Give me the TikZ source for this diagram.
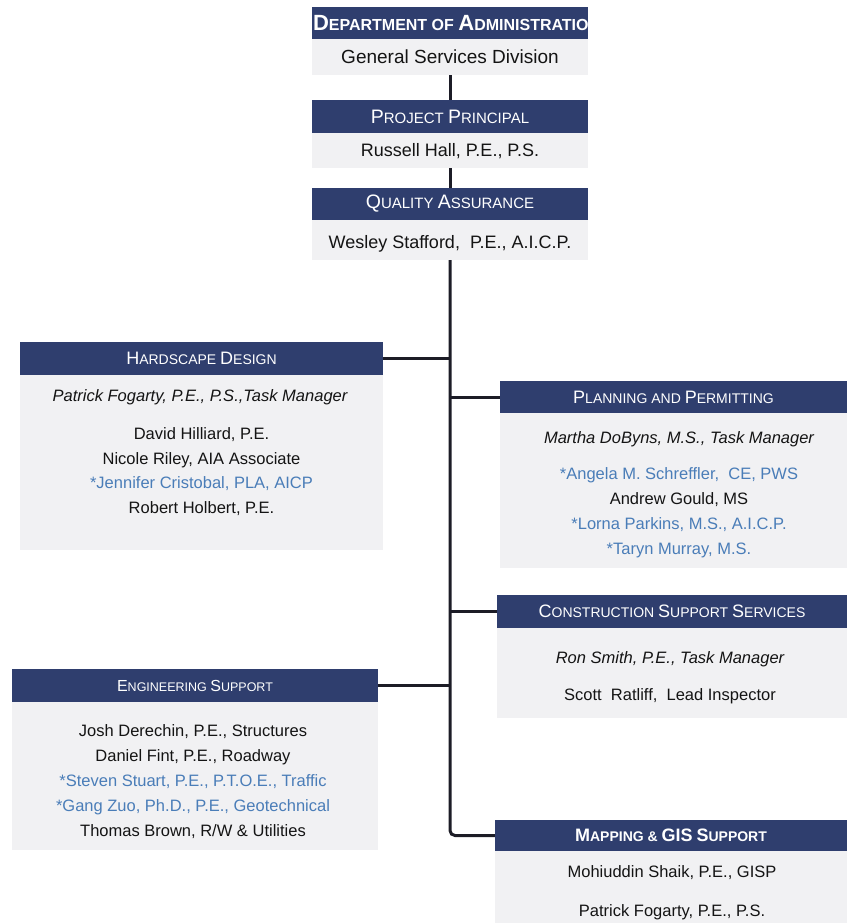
\documentclass[tikz,border=0pt]{standalone}
\usepackage{fontspec}
\setmainfont{Liberation Sans}
\usepackage{tikz}
\usetikzlibrary{positioning}
\definecolor{navy}{HTML}{2F3E6E}
\definecolor{paper}{HTML}{F1F1F3}
\definecolor{starblue}{HTML}{4A7DB8}
\definecolor{ink}{HTML}{141414}
\definecolor{wire}{HTML}{1C1C26}
\newcommand\Ini[1]{{\fontsize{18}{18}\selectfont #1}}
\newcommand\Top[1]{{\fontsize{19.5}{19.5}\selectfont #1}}
\tikzstyle{head}=[rectangle, fill=navy, text=white, inner sep=0pt, minimum height=33pt,
    font=\fontsize{14}{16}\selectfont]
\tikzstyle{body}=[rectangle, fill=paper, inner sep=0pt]
\tikzstyle{crew}=[inner sep=0pt, anchor=base, text=ink, font=\fontsize{16.5}{18}\selectfont]
\tikzstyle{lead}=[crew, font=\fontsize{16.5}{18}\selectfont\itshape]
\tikzstyle{star}=[crew, text=starblue]
\tikzstyle{boss}=[crew, font=\fontsize{18}{20}\selectfont]
\tikzstyle{link}=[draw=wire, line width=3pt]

\begin{document}
\begin{tikzpicture}[x=1pt, y=-1pt]
\useasboundingbox (0,0) rectangle (847,923);
% top of the chart
\node[head, minimum width=276pt, minimum height=32pt] (deptHead) at (450,23){};
\begin{scope}
\clip (deptHead.south west) rectangle (deptHead.north east);
\node[anchor=west, inner sep=0pt, text=white, font=\fontsize{16}{18}\selectfont\bfseries] (deptTitle) at ([xshift=1pt]deptHead.west){{\fontsize{22}{22}\selectfont D}EPARTMENT OF {\fontsize{22}{22}\selectfont A}DMINISTRATION};
\end{scope}
\node[body, minimum width=276pt, minimum height=36pt] (deptBody) at (450,57){};
\node[boss, font=\fontsize{19}{21}\selectfont] (dept0) at (450,63.5){General Services Division};
\node[head, minimum width=276pt, font=\fontsize{15}{17}\selectfont] (ppHead) at (450,116.5){\Top{P}ROJECT \Top{P}RINCIPAL};
\node[body, minimum width=276pt, minimum height=35pt] (ppBody) at (450,150.5){};
\node[boss] (pp0) at (450,156.5){Russell Hall, P.E., P.S.};
\node[head, minimum width=276pt, minimum height=32pt, font=\fontsize{15}{17}\selectfont] (qaHead) at (450,204){\Top{Q}UALITY \Top{A}SSURANCE};
\node[body, minimum width=276pt, minimum height=40pt] (qaBody) at (450,240){};
\node[boss] (qa0) at (450,248.5){Wesley Stafford,~~P.E., A.I.C.P.};
\draw[link](deptBody) -- (ppHead);
\draw[link](ppBody) -- (qaHead);
% left side
\node[head, minimum width=363pt] (hdHead) at (201.5,358.5){\Ini{H}ARDSCAPE \Ini{D}ESIGN};
\node[body, minimum width=363pt, minimum height=175pt] (hdBody) at (201.5,462.5){};
\node[lead] (hd0) at (200,401){Patrick Fogarty, P.E., P.S.,Task Manager};
\node[crew] (hd1) at (201.5,439){David Hilliard, P.E.};
\node[crew] (hd2) at (201.5,464){Nicole Riley, AIA Associate};
\node[star] (hd3) at (201.5,488){*Jennifer Cristobal, PLA, AICP};
\node[crew] (hd4) at (201.5,513){Robert Holbert, P.E.};
\node[head, minimum width=366pt, font=\fontsize{12.5}{14}\selectfont] (esHead) at (195,685.5){{\fontsize{16}{16}\selectfont E}NGINEERING {\fontsize{16}{16}\selectfont S}UPPORT};
\node[body, minimum width=366pt, minimum height=148pt] (esBody) at (195,776){};
\node[crew] (es0) at (193,736){Josh Derechin, P.E., Structures};
\node[crew] (es1) at (193,761){Daniel Fint, P.E., Roadway};
\node[star] (es2) at (193,786){*Steven Stuart, P.E., P.T.O.E., Traffic};
\node[star] (es3) at (193,811){*Gang Zuo, Ph.D., P.E., Geotechnical};
\node[crew] (es4) at (193,836){Thomas Brown, R/W \& Utilities};
% right side
\node[head, minimum width=347pt, minimum height=32pt] (ppmHead) at (673.5,397){\Ini{P}LANNING AND \Ini{P}ERMITTING};
\node[body, minimum width=347pt, minimum height=155pt] (ppmBody) at (673.5,490.5){};
\node[lead] (ppm0) at (679,443){Martha DoByns, M.S., Task Manager};
\node[star] (ppm1) at (679,479){*Angela M. Schreffler,~~CE, PWS};
\node[crew] (ppm2) at (679,504){Andrew Gould, MS};
\node[star] (ppm3) at (679,529){*Lorna Parkins, M.S., A.I.C.P.};
\node[star] (ppm4) at (679,554){*Taryn Murray, M.S.};
\node[head, minimum width=350pt] (cssHead) at (672,611.5){\Ini{C}ONSTRUCTION \Ini{S}UPPORT \Ini{S}ERVICES};
\node[body, minimum width=350pt, minimum height=90pt] (cssBody) at (672,673){};
\node[lead] (css0) at (670,663){Ron Smith, P.E., Task Manager};
\node[crew] (css1) at (670,700){Scott~~Ratliff,~~Lead Inspector};
\node[head, minimum width=352pt, minimum height=31pt, font=\fontsize{14}{16}\selectfont\bfseries] (gisHead) at (671,835.5){\Ini{M}APPING \& \Ini{GIS} \Ini{S}UPPORT};
\node[body, minimum width=352pt, minimum height=72pt] (gisBody) at (671,887){};
\node[crew] (gis0) at (672,877){Mohiuddin Shaik, P.E., GISP};
\node[crew] (gis1) at (672,916){Patrick Fogarty, P.E., P.S.};
% connectors
\draw[link, rounded corners=5pt](qaBody.south) |- (gisHead.west);
\draw[link](hdHead.east) -- (hdHead.east -| qaBody.south);
\draw[link](esHead.east) -- (esHead.east -| qaBody.south);
\draw[link](ppmHead.west) -- (ppmHead.west -| qaBody.south);
\draw[link](cssHead.west) -- (cssHead.west -| qaBody.south);
\end{tikzpicture}
\end{document}
